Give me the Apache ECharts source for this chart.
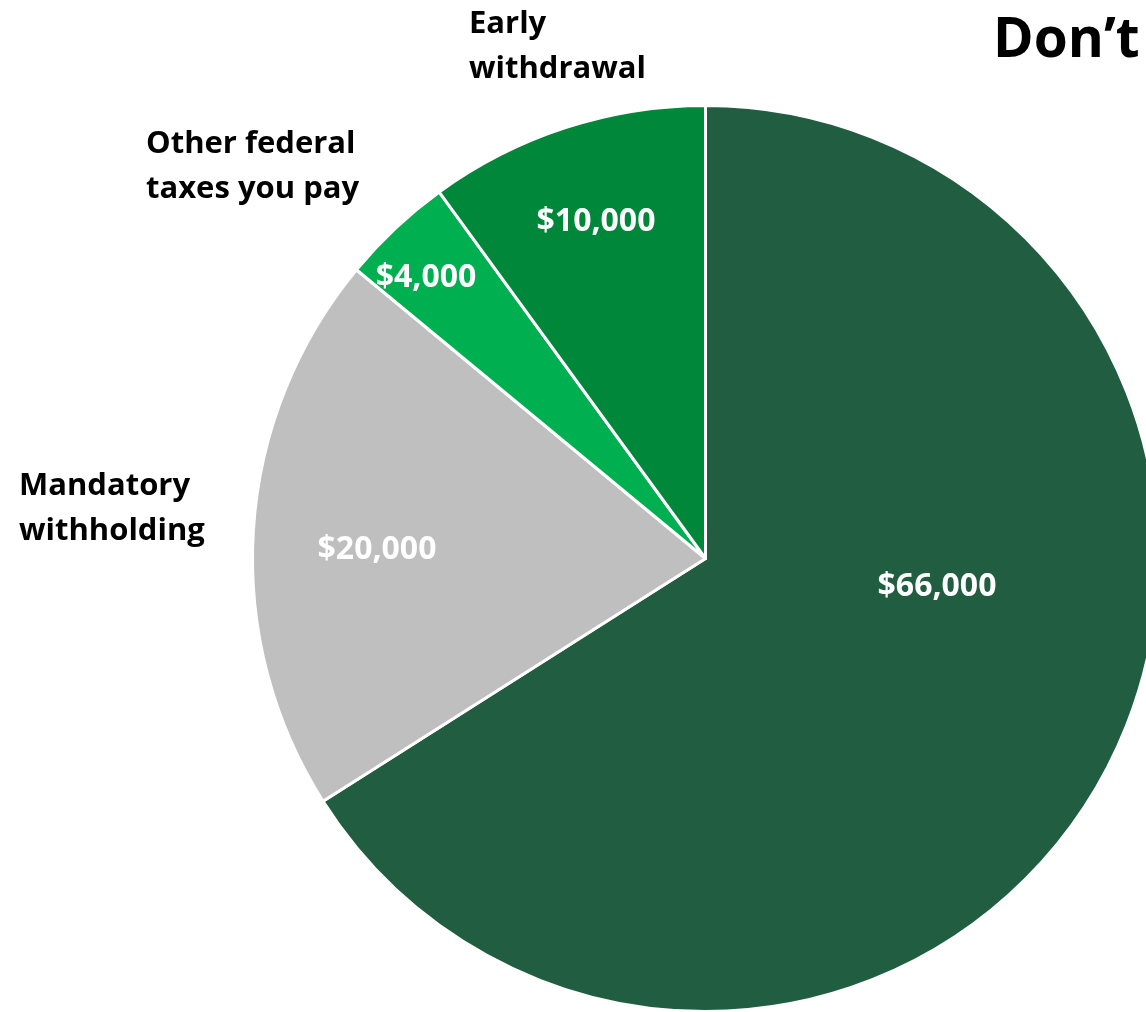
<!DOCTYPE html>
<html>
<head>
<meta charset="utf-8">
<style>
  html, body { margin: 0; padding: 0; background: #ffffff; }
  #chart { width: 1146px; height: 1012px; }
</style>
<script src="https://cdn.jsdelivr.net/npm/echarts@6/dist/echarts.min.js"></script>
</head>
<body>
<div id="chart"></div>
<script>
// Slices, clockwise from 12 o'clock
const categories = ['', 'Mandatory\nwithholding', 'Other federal\ntaxes you pay', 'Early\nwithdrawal'];
const values = [66000, 20000, 4000, 10000];
const sliceColors = ['#215E41', '#BFBFBF', '#00B050', '#00873A'];
const titleText = 'Don\u2019t';

// Label anchor points (value labels are centred, category labels are left-aligned)
const valueLabelPos = [[937, 587], [377, 550], [426, 278], [596, 222]];
const nameLabelPos = [null, [19, 509], [146, 167], [469, 47]];

const FONT = '"Open Sans", Lato, sans-serif';
const fmt = v => '$' + v.toLocaleString('en-US');

const chart = echarts.init(document.getElementById('chart'), null, { renderer: 'canvas' });

const pieBase = {
  type: 'pie',
  center: [705.5, 558.5],
  radius: [0, 453],
  startAngle: 90,
  clockwise: true,
  avoidLabelOverlap: false,
  animation: false,
  labelLine: { show: false }
};

chart.setOption({
  animation: false,
  title: {
    text: titleText,
    left: 988,
    top: 9,
    textStyle: { fontFamily: FONT, fontWeight: 'bold', fontSize: 55, color: '#000000' }
  },
  series: [
    Object.assign({}, pieBase, {
      name: 'values',
      data: values.map((v, i) => ({
        name: categories[i],
        value: v,
        itemStyle: { color: sliceColors[i] }
      })),
      itemStyle: { borderColor: '#ffffff', borderWidth: 3 },
      label: {
        show: true,
        position: 'inside',
        formatter: p => fmt(p.value),
        color: '#ffffff',
        fontFamily: FONT,
        fontWeight: 'bold',
        fontSize: 32
      },
      labelLayout: p => ({
        x: valueLabelPos[p.dataIndex][0],
        y: valueLabelPos[p.dataIndex][1],
        align: 'center',
        verticalAlign: 'middle'
      })
    }),
    Object.assign({}, pieBase, {
      name: 'names',
      silent: true,
      z: 3,
      data: values.map((v, i) => ({
        name: categories[i],
        value: v,
        label: { show: !!nameLabelPos[i] }
      })),
      itemStyle: { color: 'rgba(0,0,0,0)', borderWidth: 0 },
      emphasis: { disabled: true },
      label: {
        show: true,
        position: 'inside',
        formatter: '{b}',
        color: '#000000',
        fontFamily: FONT,
        fontWeight: 'bold',
        fontSize: 31,
        lineHeight: 45,
        align: 'left'
      },
      labelLayout: p => {
        const pos = nameLabelPos[p.dataIndex] || [-500, -500];
        return { x: pos[0], y: pos[1], align: 'left', verticalAlign: 'middle' };
      }
    })
  ]
});
</script>
</body>
</html>
